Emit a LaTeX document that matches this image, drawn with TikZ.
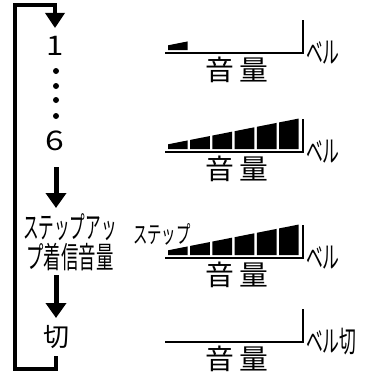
\documentclass[tikz,border=0pt]{standalone}
\usepackage{fontspec}
\setmainfont{Noto Sans CJK JP}
\usetikzlibrary{arrows.meta}
\begin{document}
\begin{tikzpicture}[x=1pt,y=-1pt,
  loopline/.style={line width=3.5pt,line join=miter,-{Triangle[width=19pt,length=15pt]}},
  flowarrow/.style={line width=5pt,-{Triangle[width=20pt,length=15pt]}},
  axisline/.style={line width=2pt,line join=miter},
  lbl/.style={inner sep=0pt,outer sep=0pt},
  bigfont/.style={font=\fontsize{27}{27}\selectfont},
  dotnode/.style={circle,fill=black,inner sep=0pt,minimum size=6pt}]
\useasboundingbox (0,0) rectangle (376,372);
% left column
\node[lbl,bigfont] (n1) at (55,46) {\scalebox{1.15}[1]{1}};
\node[dotnode] (d1) at (56,71) {};
\node[dotnode] (d2) at (56,86) {};
\node[dotnode] (d3) at (56,100) {};
\node[dotnode] (d4) at (56,116) {};
\node[lbl,bigfont] (n6) at (55,141) {\scalebox{1.25}[1]{6}};
\node[lbl,align=center,font=\fontsize{30}{30}\selectfont] (up) at (70,242)
  {\scalebox{0.52}[1]{ステップアッ}\\\scalebox{0.58}[1]{プ着信音量}};
\node[lbl,font=\fontsize{26}{26}\selectfont] (kiri) at (56,337) {切};
\coordinate (a2s) at (56,167);
\coordinate (a2e) at (56,208);
\coordinate (a3s) at (56,275);
\coordinate (a3e) at (56,318);
\coordinate (ls) at (56,356);
\coordinate (lt) at (55,28);
\draw[flowarrow] (a2s) -- (a2e);
\draw[flowarrow] (a3s) -- (a3e);
\draw[loopline] (ls) -- (56,369) -- (15,369) -- (15,5) -- (55,5) -- (lt);
% panels
\foreach \by/\nb/\lab in {53/1/ベル, 152/6/ベル, 258/6/ベル, 342/0/ベル切} {
  \begin{scope}[shift={(0,\by)}]
    \draw[axisline] (165,0) -- (303,0) -- (303,-33);
    \ifnum\nb>0
      \foreach \i in {1,...,\nb} {
        \pgfmathsetmacro\xa{168+(\i-1)*22.2}
        \pgfmathsetmacro\xb{\xa+19.7}
        \pgfmathsetmacro\ta{-7.7-(\xa-168)*0.197}
        \pgfmathsetmacro\tb{-7.7-(\xb-168)*0.197}
        \fill (\xa,-3) -- (\xa,\ta) -- (\xb,\tb) -- (\xb,-3) -- cycle;
      }
    \fi
    \node[lbl,anchor=west,font=\fontsize{30}{30}\selectfont] (bell\by) at (306,0) {\scalebox{0.56}[1]{\lab}};
    \node[lbl,font=\fontsize{28}{28}\selectfont] (vol\by) at (236.5,16.5) {\scalebox{1.03}[1]{音\kern5pt量}};
  \end{scope}
}
\node[lbl,font=\fontsize{24}{24}\selectfont] (steplbl) at (162,234) {\scalebox{0.6}[1]{ステップ}};
\end{tikzpicture}
\end{document}
